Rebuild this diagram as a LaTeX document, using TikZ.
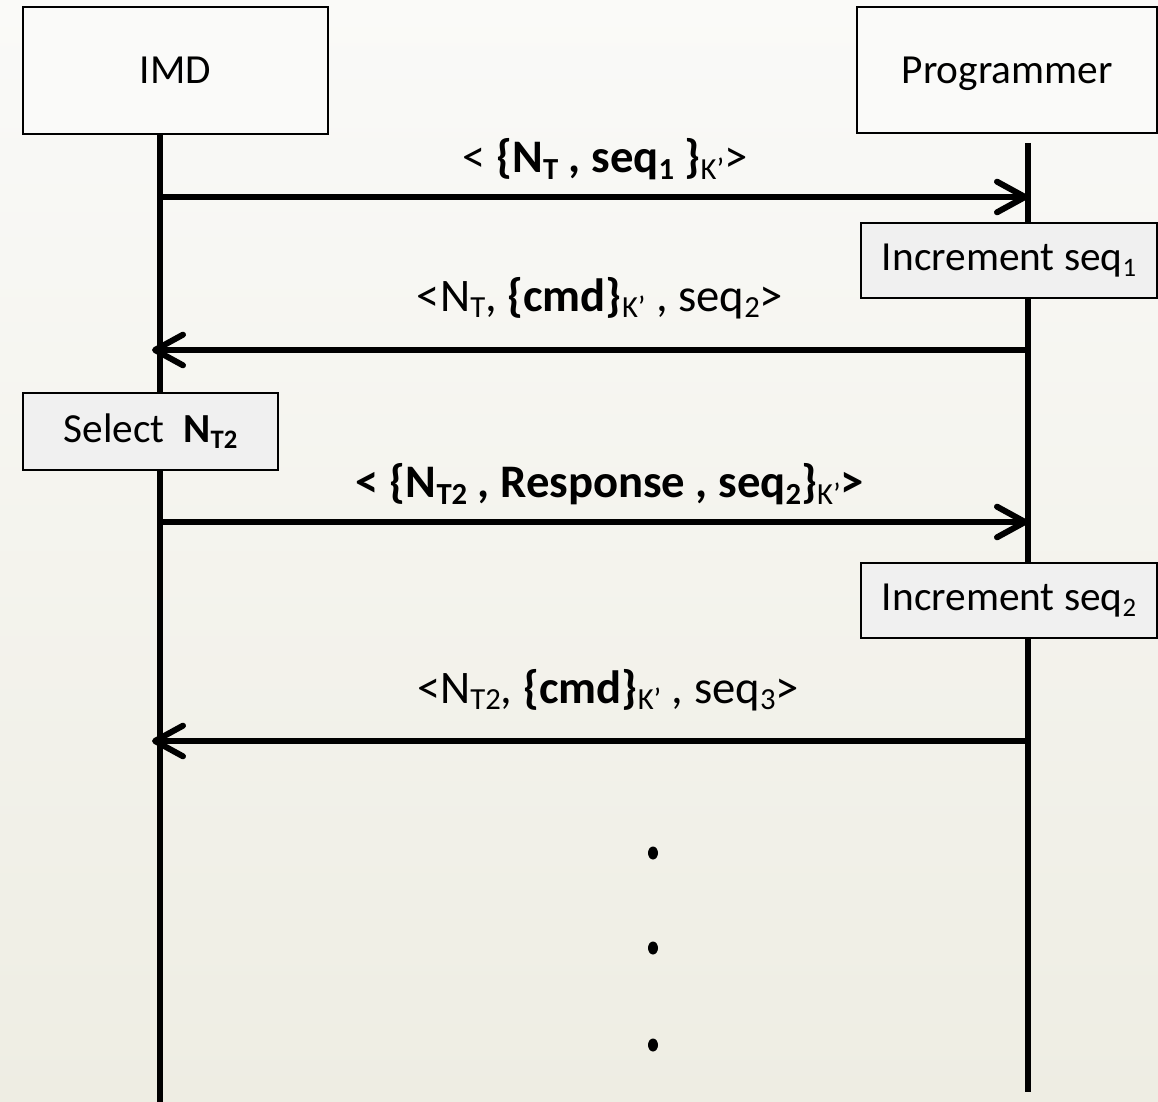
\documentclass[tikz,border=0pt]{standalone}
\usepackage{fontspec}
\setmainfont{Carlito}
\usetikzlibrary{arrows.meta}
\newcommand{\lowsub}[1]{\raisebox{-0.3ex}{\fontsize{20}{20}\selectfont #1}}
\newcommand{\msgsub}[1]{\raisebox{-0.3ex}{\fontsize{23}{23}\selectfont #1}}
\definecolor{bgtop}{HTML}{FAFAF8}
\definecolor{bgbot}{HTML}{EEEDE3}
\definecolor{boxwhite}{HTML}{FAFAF9}
\definecolor{boxgray}{HTML}{F0F0F0}
\begin{document}
\begin{tikzpicture}[x=0.75pt,y=-0.75pt,
  txt/.style={font=\fontsize{35}{40}\selectfont, inner sep=0pt},
  actor/.style={draw=black, line width=1.6pt, fill=boxwhite, inner sep=0pt, font=\fontsize{31}{36}\selectfont, text height=20pt, text depth=0pt},
  action/.style={draw=black, line width=1.6pt, fill=boxgray, inner sep=0pt, font=\fontsize{31}{36}\selectfont},
  lifeline/.style={line width=3.8pt},
  msg/.style={line width=4.5pt, -{Straight Barb[length=21pt,width=23pt,round]}},
  dotmark/.style={fill=black, draw=none}
]
\useasboundingbox (0,0) rectangle (1158,1102);
\shade[top color=bgtop, bottom color=bgbot] (0,0) rectangle (1158,1102);

% lifeline coordinates
\coordinate (imdTop) at (160,130);
\coordinate (imdBot) at (160,1102);
\coordinate (prgTop) at (1028,143);
\coordinate (prgBot) at (1028,1092);

\draw[lifeline] (imdTop) -- (imdBot);
\draw[lifeline] (prgTop) -- (prgBot);

% actor boxes
\node[actor, minimum width=228.75pt, minimum height=95.25pt] (imd) at (175.5,70.5) {IMD};
\node[actor, minimum width=225pt, minimum height=94.5pt] (prg) at (1007,70) {Programmer};

% action boxes
\node[action, minimum width=222pt, minimum height=56.25pt] (inc1) at (1009,260.5) {Increment seq\lowsub{1}};
\node[action, minimum width=191.25pt, minimum height=57.75pt] (sel) at (150.5,431.5) {Select \ \textbf{N\lowsub{T2}}};
\node[action, minimum width=222pt, minimum height=56.25pt] (inc2) at (1009,600.5) {Increment seq\lowsub{2}};

% message end points
\coordinate (m1s) at (160,197);  \coordinate (m1e) at (1028,197);
\coordinate (m2s) at (1028,350); \coordinate (m2e) at (152,350);
\coordinate (m3s) at (160,522);  \coordinate (m3e) at (1028,522);
\coordinate (m4s) at (1028,741); \coordinate (m4e) at (152,741);

\draw[msg] (m1s) -- (m1e);
\draw[msg] (m2s) -- (m2e);
\draw[msg] (m3s) -- (m3e);
\draw[msg] (m4s) -- (m4e);

% labels
\node[txt] (l1) at (605,159) {< \textbf{\{N\msgsub{T} , seq\msgsub{1} \}}\msgsub{K’}>};
\node[txt] (l2) at (600,298) {<N\msgsub{T}, \textbf{\{cmd\}}\msgsub{K’} , seq\msgsub{2}>};
\node[txt] (l3) at (610,484) {\textbf{< \{N\msgsub{T2} , Response , seq\msgsub{2}\}}\msgsub{K’}\textbf{>}};
\node[txt] (l4) at (608,690) {<N\msgsub{T2}, \textbf{\{cmd\}}\msgsub{K’} , seq\msgsub{3}>};

% continuation dots
\fill[dotmark] (653,853) ellipse [x radius=5, y radius=6.5];
\fill[dotmark] (653,948) ellipse [x radius=5, y radius=6.5];
\fill[dotmark] (653,1045) ellipse [x radius=5, y radius=6.5];
\end{tikzpicture}
\end{document}
